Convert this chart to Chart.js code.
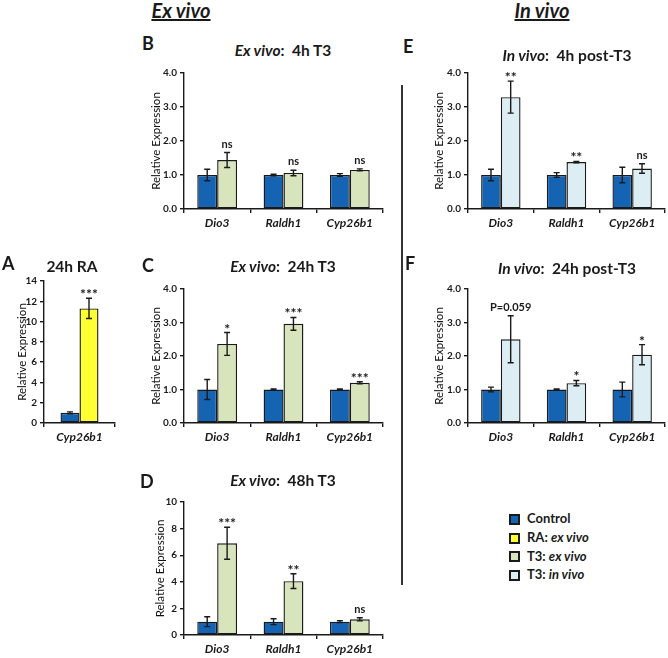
<!DOCTYPE html>
<html><head><meta charset="utf-8">
<script src="https://cdn.jsdelivr.net/npm/chart.js@4.4.1/dist/chart.umd.min.js"></script>
<style>
html,body{margin:0;padding:0}
body{width:668px;height:658px;background:#fff;position:relative;overflow:hidden;font-family:Lato,"Open Sans",sans-serif;color:#1a1a1a}
.t{position:absolute;white-space:nowrap;font-weight:bold}
canvas{position:absolute}
.sq{position:absolute;width:7px;height:7px;border:2px solid #1a1a1a}
</style></head><body>
<script>
// ---------------- data ----------------
const genes = ['Dio3', 'Raldh1', 'Cyp26b1'];
const catsA = ['Cyp26b1'];
const seriesNames = ['Control', 'RA: ex vivo', 'T3: ex vivo', 'T3: in vivo'];

// A: 24h RA
const ctrlA = [1.0],  ctrlErrA = [0.1];
const raA = [11.3],   raErrA = [1.0];
const sigA = ['***'];
// B: ex vivo 4h T3
const ctrlB = [1.0, 1.0, 1.0], ctrlErrB = [0.17, 0.02, 0.04];
const t3B = [1.44, 1.06, 1.15], t3ErrB = [0.22, 0.08, 0.03];
const sigB = ['ns', 'ns', 'ns'];
// C: ex vivo 24h T3
const ctrlC = [1.0, 1.0, 1.0], ctrlErrC = [0.3, 0.02, 0.02];
const t3C = [2.36, 2.96, 1.2], t3ErrC = [0.34, 0.19, 0.03];
const sigC = ['*', '***', '***'];
// D: ex vivo 48h T3
const ctrlD = [1.0, 1.0, 1.0], ctrlErrD = [0.37, 0.22, 0.07];
const t3D = [6.9, 4.05, 1.18], t3ErrD = [1.2, 0.55, 0.12];
const sigD = ['***', '**', 'ns'];
// E: in vivo 4h post-T3
const ctrlE = [1.0, 1.0, 1.0], ctrlErrE = [0.17, 0.07, 0.23];
const t3E = [3.29, 1.38, 1.19], t3ErrE = [0.47, 0.02, 0.14];
const sigE = ['**', '**', 'ns'];
// F: in vivo 24h post-T3
const ctrlF = [1.0, 1.0, 1.0], ctrlErrF = [0.07, 0.02, 0.22];
const t3F = [2.5, 1.19, 2.04], t3ErrF = [0.7, 0.08, 0.3];
const sigF = ['P=0.059', '*', '*'];

// axis ranges / ticks
const max4 = 4, step4 = 1;
const maxA = 14, stepA = 2;
const maxD = 10, stepD = 2;

// ---------------- style ----------------
const INK = '#1a1a1a';
const C_CTRL = '#1564b4', C_RA = '#ffff33', C_EX = '#d8e4bc', C_IN = '#dcedf4';
const FONT = 'Lato, "Open Sans", sans-serif';

const errPlugin = {
  id: 'errbars',
  afterDatasetsDraw(chart) {
    const ctx = chart.ctx, y = chart.scales.y;
    chart.data.datasets.forEach((ds, i) => {
      const meta = chart.getDatasetMeta(i);
      meta.data.forEach((bar, j) => {
        const v = ds.data[j], e = ds.err[j];
        const yt = y.getPixelForValue(v + e), yb = y.getPixelForValue(v - e);
        ctx.save();
        ctx.strokeStyle = INK; ctx.lineWidth = 1.4;
        ctx.beginPath();
        ctx.moveTo(bar.x, yt); ctx.lineTo(bar.x, yb);
        ctx.moveTo(bar.x - 3, yt); ctx.lineTo(bar.x + 3, yt);
        ctx.moveTo(bar.x - 3, yb); ctx.lineTo(bar.x + 3, yb);
        ctx.stroke();
        if (ds.sig && ds.sig[j]) {
          const s = ds.sig[j];
          ctx.fillStyle = INK; ctx.textAlign = 'center'; ctx.textBaseline = 'alphabetic';
          if (s.indexOf('*') >= 0) { ctx.font = 'bold 14px ' + FONT; ctx.fillText(s, bar.x, yt + 1); }
          else { ctx.font = 'bold 11px ' + FONT; ctx.fillText(s, bar.x, yt - 5); }
        }
        ctx.restore();
      });
    });
  }
};

function makePanel(cfg) {
  const c = document.createElement('canvas');
  const YW = cfg.yw, XH = 32, PT = 10, PR = 3;
  const W = cfg.rightX - cfg.axisX + YW + PR, H = PT + cfg.zeroY - cfg.topY + XH;
  c.width = W; c.height = H;
  c.style.left = (cfg.axisX - YW) + 'px'; c.style.top = (cfg.topY - PT) + 'px';
  document.body.appendChild(c);
  new Chart(c, {
    type: 'bar',
    data: {
      labels: cfg.labels,
      datasets: cfg.sets.map(s => ({
        data: s.data, err: s.err, sig: s.sig,
        backgroundColor: s.color, borderColor: INK, borderWidth: 1.4, borderSkipped: false,
        categoryPercentage: cfg.catPct, barPercentage: 1
      }))
    },
    options: {
      responsive: false, animation: false, devicePixelRatio: 1,
      layout: { padding: { top: PT, right: PR, left: 0, bottom: 0 } },
      plugins: { legend: { display: false }, tooltip: { enabled: false } },
      scales: {
        x: {
          offset: true,
          grid: { display: true, drawOnChartArea: false, drawTicks: true, tickLength: 4, offset: true, color: INK, lineWidth: 1.4 },
          border: { display: true, color: INK, width: 1.4 },
          ticks: { font: { family: FONT, weight: 'bold', style: 'italic', size: 12 }, color: INK, padding: 3, maxRotation: 0 },
          afterFit: s => { s.height = XH; }
        },
        y: {
          min: 0, max: cfg.max,
          ticks: { stepSize: cfg.step, callback: v => cfg.fmt(v), font: { family: FONT, weight: 'bold', size: 10 }, color: INK, padding: 3 },
          grid: { drawOnChartArea: false, tickLength: 4, color: INK, lineWidth: 1.4 },
          border: { display: true, color: INK, width: 1.4 },
          title: { display: true, text: 'Relative Expression', font: { family: FONT, size: 11.5 }, color: '#111',
                   padding: { top: YW - cfg.tOff - 6.9, bottom: 0 } },
          afterFit: s => { s.width = YW; }
        }
      }
    },
    plugins: [errPlugin]
  });
}

const f1 = v => v.toFixed(1), f0 = v => String(v);

makePanel({ axisX: 44, rightX: 115, topY: 281, zeroY: 423, yw: 34, tOff: 22, max: maxA, step: stepA, fmt: f0, catPct: 0.535, labels: catsA,
  sets: [{ data: ctrlA, err: ctrlErrA, color: C_CTRL }, { data: raA, err: raErrA, sig: sigA, color: C_RA }] });
makePanel({ axisX: 184, rightX: 383, topY: 73, zeroY: 209, yw: 40, tOff: 28, max: max4, step: step4, fmt: f1, catPct: 0.6, labels: genes,
  sets: [{ data: ctrlB, err: ctrlErrB, color: C_CTRL }, { data: t3B, err: t3ErrB, sig: sigB, color: C_EX }] });
makePanel({ axisX: 184, rightX: 383, topY: 289, zeroY: 423, yw: 40, tOff: 28, max: max4, step: step4, fmt: f1, catPct: 0.6, labels: genes,
  sets: [{ data: ctrlC, err: ctrlErrC, color: C_CTRL }, { data: t3C, err: t3ErrC, sig: sigC, color: C_EX }] });
makePanel({ axisX: 184, rightX: 383, topY: 502, zeroY: 635, yw: 40, tOff: 24, max: maxD, step: stepD, fmt: f0, catPct: 0.6, labels: genes,
  sets: [{ data: ctrlD, err: ctrlErrD, color: C_CTRL }, { data: t3D, err: t3ErrD, sig: sigD, color: C_EX }] });
makePanel({ axisX: 468, rightX: 665, topY: 73, zeroY: 209, yw: 40, tOff: 29, max: max4, step: step4, fmt: f1, catPct: 0.6, labels: genes,
  sets: [{ data: ctrlE, err: ctrlErrE, color: C_CTRL }, { data: t3E, err: t3ErrE, sig: sigE, color: C_IN }] });
makePanel({ axisX: 468, rightX: 665, topY: 289, zeroY: 423, yw: 40, tOff: 29, max: max4, step: step4, fmt: f1, catPct: 0.6, labels: genes,
  sets: [{ data: ctrlF, err: ctrlErrF, color: C_CTRL }, { data: t3F, err: t3ErrF, sig: sigF, color: C_IN }] });

// ---------------- text / annotations ----------------
function txt(html, x, capTop, fs, opts) {
  opts = opts || {};
  const d = document.createElement('div');
  d.className = 't';
  d.innerHTML = html;
  d.style.fontSize = fs + 'px';
  d.style.lineHeight = fs + 'px';
  d.style.top = (capTop - 0.17 * fs) + 'px';
  if (opts.center) { d.style.left = (x - 150) + 'px'; d.style.width = '300px'; d.style.textAlign = 'center'; }
  else d.style.left = x + 'px';
  if (opts.style) d.style.cssText += opts.style;
  document.body.appendChild(d);
}
txt('Ex vivo', 181, 3, 20, { center: true, style: 'font-style:italic;text-decoration:underline;' });
txt('In vivo', 542, 3, 20, { center: true, style: 'font-style:italic;text-decoration:underline;' });
txt('A', 2, 257, 18); txt('B', 142, 37, 18); txt('C', 142, 259, 18);
txt('D', 140, 475, 18); txt('E', 403, 40, 18); txt('F', 405, 257, 18);
txt('24h RA', 72, 262, 15.5, { center: true });
txt('<i>Ex vivo</i>:&nbsp; 4h T3', 283, 46, 15.5, { center: true });
txt('<i>Ex vivo</i>:&nbsp; 24h T3', 283, 262, 15.5, { center: true });
txt('<i>Ex vivo</i>:&nbsp; 48h T3', 283, 476, 15.5, { center: true });
txt('<i>In vivo</i>:&nbsp; 4h post-T3', 567, 51, 15.5, { center: true });
txt('<i>In vivo</i>:&nbsp; 24h post-T3', 567, 264, 15.5, { center: true });

// divider
const dv = document.createElement('div');
dv.style.cssText = 'position:absolute;left:401px;top:85px;width:1.5px;height:500px;background:#333';
document.body.appendChild(dv);

// legend
const legColors = [C_CTRL, C_RA, C_EX, C_IN];
const legLabels = ['Control', 'RA: <i>ex vivo</i>', 'T3: <i>ex vivo</i>', 'T3: <i>in vivo</i>'];
const legY = [519, 538, 556.5, 575];
legLabels.forEach((l, i) => {
  const s = document.createElement('div');
  s.className = 'sq';
  s.style.left = '509px'; s.style.top = (legY[i] - 5.5) + 'px'; s.style.background = legColors[i];
  document.body.appendChild(s);
  txt(l, 527, legY[i] - 4.7, 13);
});
</script>
</body></html>
